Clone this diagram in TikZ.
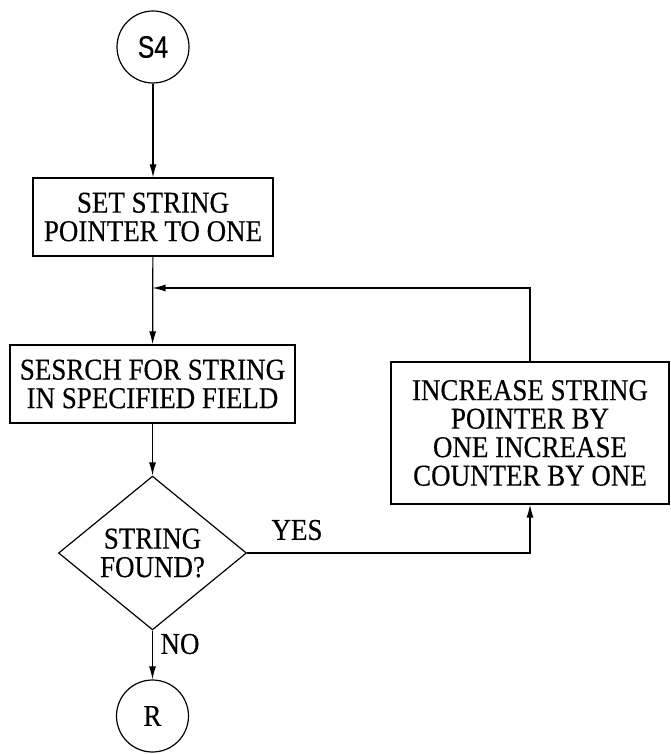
\documentclass[tikz,border=0pt]{standalone}
\usepackage{fontspec}
\setmainfont{Liberation Serif}[FakeStretch=0.89,FakeBold=0.4]
\newfontfamily\sansf{Liberation Sans}[FakeStretch=0.8,FakeBold=0.4]
\usetikzlibrary{shapes.geometric,arrows.meta}
\begin{document}
\begin{tikzpicture}[x=1pt,y=-1pt,
  every node/.style={font=\fontsize{30.3}{28.5}\selectfont, inner sep=0pt, align=center},
  arr/.style={line width=1.2pt, -{Latex[length=13pt,width=7pt]}},
  procbox/.style={draw, line width=1.2pt, rectangle},
  term/.style={draw, line width=1.2pt, circle},
  decide/.style={draw, line width=1.2pt, diamond, minimum width=188pt, minimum height=130pt},
  lbl/.style={font=\fontsize{30.3}{28.5}\selectfont}]
\useasboundingbox (0,0) rectangle (671,754);
\node[term, minimum size=72pt, font=\sansf\fontsize{31}{32}\selectfont] (s4) at (153,47) {S4};
\node[procbox, minimum width=240pt, minimum height=78pt] (set) at (153,217) {SET STRING\\POINTER TO ONE};
\node[procbox, minimum width=285pt, minimum height=78pt] (search) at (152.5,384) {SESRCH FOR STRING\\IN SPECIFIED FIELD};
\node[decide] (dec) at (152.5,553) {STRING\\FOUND?};
\node[procbox, minimum width=278pt, minimum height=142pt] (inc) at (530,433) {INCREASE STRING\\POINTER BY\\ONE INCREASE\\COUNTER BY ONE};
\node[term, minimum size=72pt] (r) at (152.5,716) {R};
\coordinate (join) at (152.5,288);
\node[lbl] (yes) at (297,530) {YES};
\node[lbl] (no) at (180,644) {NO};
\draw[arr] (s4) -- (set);
\draw[arr] (set) -- (search);
\draw[arr] (search) -- (dec);
\draw[arr] (dec) -- (r);
\draw[arr] (dec.east) -| (inc.south);
\draw[arr] (inc.north) |- (join);
\end{tikzpicture}
\end{document}
